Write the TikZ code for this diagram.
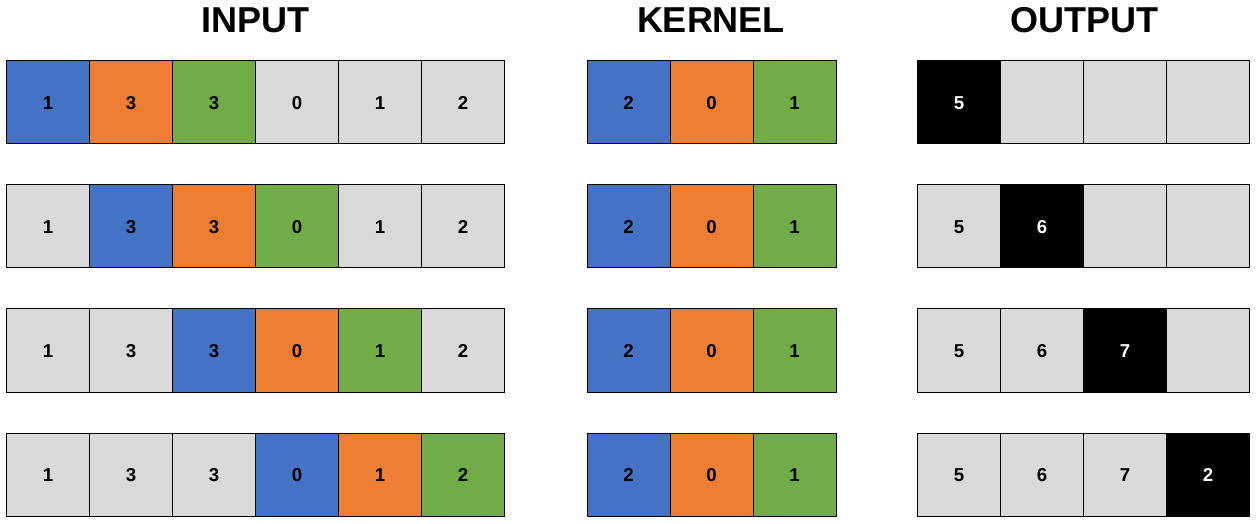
\documentclass[tikz,border=0pt]{standalone}
\usepackage{fontspec}
\setmainfont{Liberation Sans}
\usetikzlibrary{positioning}

\definecolor{cblue}{HTML}{4472C4}
\definecolor{corange}{HTML}{ED7D31}
\definecolor{cgreen}{HTML}{70AD47}
\definecolor{cgray}{HTML}{D9D9D9}

\begin{document}
\begin{tikzpicture}[x=0.75pt,y=-0.75pt,node distance=0pt,
                     cell/.style={
                                % The shape:
                                rectangle,minimum width=62.25pt,minimum height=62.25pt,
                                inner sep=0pt,outer sep=0pt,text height=10pt,text depth=0pt,
                                % The rest
                                draw=black,line width=0.75pt,fill=cgray,
                                font=\fontsize{14}{16}\selectfont\bfseries},
                     title/.style={font=\fontsize{27}{30}\selectfont\bfseries}]
 \useasboundingbox (0,0) rectangle (1258,524);
 % titles
 \node (tin)  [title] at (255,20)  {INPUT};
 \node (tker) [title] at (711,20)  {KERNEL};
 \node (tout) [title] at (1084,20) {OUTPUT};
 \foreach \r in {1,...,4} {
   % input row: the kernel window covers cells r, r+1, r+2
   \foreach \v [count=\c] in {1,3,3,0,1,2} {
     \pgfmathtruncatemacro{\k}{\c-\r}
     \ifcase\k \def\cc{cblue}\or \def\cc{corange}\or \def\cc{cgreen}\else \def\cc{cgray}\fi
     \ifnum\c=1
       \node (in-\r-\c) [cell,fill=\cc] at (48,{102.5+124*(\r-1)}) {\v};
     \else
       \pgfmathtruncatemacro{\p}{\c-1}
       \node (in-\r-\c) [cell,fill=\cc,right=of in-\r-\p] {\v};
     \fi
   }
   % kernel row
   \node (ker-\r-1) [cell,fill=cblue] at (628.5,{102.5+124*(\r-1)}) {2};
   \node (ker-\r-2) [cell,fill=corange,right=of ker-\r-1] {0};
   \node (ker-\r-3) [cell,fill=cgreen,right=of ker-\r-2] {1};
   % output row
   \foreach \v [count=\c] in {5,6,7,2} {
     \pgfmathtruncatemacro{\xo}{959.5+83*(\c-1)}
     \ifnum\c<\r
       \node (out-\r-\c) [cell] at (\xo,{102.5+124*(\r-1)}) {\v};
     \else\ifnum\c=\r
       \node (out-\r-\c) [cell,fill=black,text=white] at (\xo,{102.5+124*(\r-1)}) {\v};
     \else
       \node (out-\r-\c) [cell] at (\xo,{102.5+124*(\r-1)}) {};
     \fi\fi
   }
 }
\end{tikzpicture}
\end{document}
